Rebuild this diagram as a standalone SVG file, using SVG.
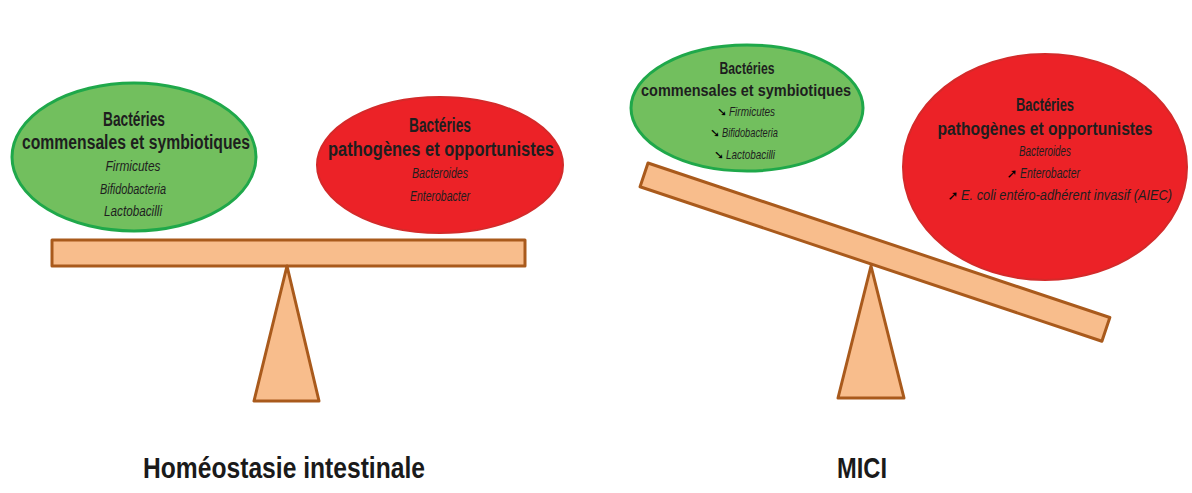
<svg xmlns="http://www.w3.org/2000/svg" width="1192" height="493" viewBox="0 0 1192 493">
<style>
.bg{fill:#ffffff}
.green{fill:#72bf5e;stroke:#1fa84a;stroke-width:3}
.red{fill:#ec2227;stroke:#d42a2a;stroke-width:2}
.beam{fill:#f8bd8c;stroke:#a95a1c;stroke-width:3;stroke-linejoin:round}
.h{font-family:"Liberation Sans Narrow","Liberation Sans",Arial,sans-serif;font-weight:bold;fill:#1e1e1e;text-anchor:middle}
.i{font-family:"Liberation Sans Narrow","Liberation Sans",Arial,sans-serif;font-style:italic;fill:#1e1e1e;text-anchor:middle}
.is{font-family:"Liberation Sans Narrow","Liberation Sans",Arial,sans-serif;font-style:italic;fill:#1e1e1e;text-anchor:start}
.ar{font-family:"DejaVu Sans",sans-serif;font-weight:bold;fill:#000;text-anchor:middle}
.t{font-family:"Liberation Sans Narrow","Liberation Sans",Arial,sans-serif;font-weight:bold;fill:#1a1a1a;text-anchor:middle}
</style>
<rect class="bg" x="0" y="0" width="1192" height="493"/>

<g id="left-balance">
  <rect class="beam" x="52" y="240" width="473" height="26"/>
  <polygon class="beam" points="287,266 254,401 319,401"/>
</g>

<g id="left-commensales">
  <ellipse class="green" cx="134" cy="157" rx="122" ry="74"/>
  <text class="h" x="134" y="126" font-size="20" textLength="62" lengthAdjust="spacingAndGlyphs">Bactéries</text>
  <text class="h" x="136" y="149" font-size="20" textLength="228" lengthAdjust="spacingAndGlyphs">commensales et symbiotiques</text>
  <text class="i" x="133" y="171" font-size="15" textLength="55" lengthAdjust="spacingAndGlyphs">Firmicutes</text>
  <text class="i" x="133" y="194" font-size="15" textLength="66" lengthAdjust="spacingAndGlyphs">Bifidobacteria</text>
  <text class="i" x="133" y="216" font-size="15" textLength="58" lengthAdjust="spacingAndGlyphs">Lactobacilli</text>
</g>

<g id="left-pathogenes">
  <ellipse class="red" cx="440" cy="165" rx="123" ry="68"/>
  <text class="h" x="440" y="132" font-size="20" textLength="62" lengthAdjust="spacingAndGlyphs">Bactéries</text>
  <text class="h" x="441" y="156" font-size="20" textLength="226" lengthAdjust="spacingAndGlyphs">pathogènes et opportunistes</text>
  <text class="i" x="440" y="178" font-size="15" textLength="56" lengthAdjust="spacingAndGlyphs">Bacteroides</text>
  <text class="i" x="440" y="201" font-size="15" textLength="60" lengthAdjust="spacingAndGlyphs">Enterobacter</text>
</g>

<g id="right-balance">
  <rect class="beam" x="648" y="163" width="487" height="25" transform="rotate(18.5 648 163)"/>
  <polygon class="beam" points="871,266 838,398 904,398"/>
</g>

<g id="right-commensales">
  <ellipse class="green" cx="747" cy="108" rx="116" ry="63"/>
  <text class="h" x="747" y="74" font-size="17" textLength="55" lengthAdjust="spacingAndGlyphs">Bactéries</text>
  <text class="h" x="746" y="96" font-size="17" textLength="210" lengthAdjust="spacingAndGlyphs">commensales et symbiotiques</text>
  <text class="ar" x="722" y="116" font-size="12">➘</text>
  <text class="is" x="729" y="116" font-size="13" textLength="46" lengthAdjust="spacingAndGlyphs">Firmicutes</text>
  <text class="ar" x="715" y="137" font-size="12">➘</text>
  <text class="is" x="722" y="137" font-size="13" textLength="56" lengthAdjust="spacingAndGlyphs">Bifidobacteria</text>
  <text class="ar" x="719" y="159" font-size="12">➘</text>
  <text class="is" x="726" y="159" font-size="13" textLength="49" lengthAdjust="spacingAndGlyphs">Lactobacilli</text>
</g>

<g id="right-pathogenes">
  <ellipse class="red" cx="1045" cy="167" rx="142" ry="113"/>
  <text class="h" x="1045" y="111" font-size="18" textLength="58" lengthAdjust="spacingAndGlyphs">Bactéries</text>
  <text class="h" x="1045" y="135" font-size="18" textLength="215" lengthAdjust="spacingAndGlyphs">pathogènes et opportunistes</text>
  <text class="i" x="1045" y="156" font-size="14" textLength="52" lengthAdjust="spacingAndGlyphs">Bacteroides</text>
  <text class="ar" x="1012" y="178" font-size="13">➚</text>
  <text class="is" x="1020" y="178" font-size="14" textLength="60" lengthAdjust="spacingAndGlyphs">Enterobacter</text>
  <text class="ar" x="953" y="200" font-size="13">➚</text>
  <text class="is" x="961" y="200" font-size="14" textLength="211" lengthAdjust="spacingAndGlyphs">E. coli entéro-adhérent invasif (AIEC)</text>
</g>

<g id="labels">
  <text class="t" x="284" y="478" font-size="30" textLength="282" lengthAdjust="spacingAndGlyphs">Homéostasie intestinale</text>
  <text class="t" x="862" y="478" font-size="30" textLength="50" lengthAdjust="spacingAndGlyphs">MICI</text>
</g>
</svg>
